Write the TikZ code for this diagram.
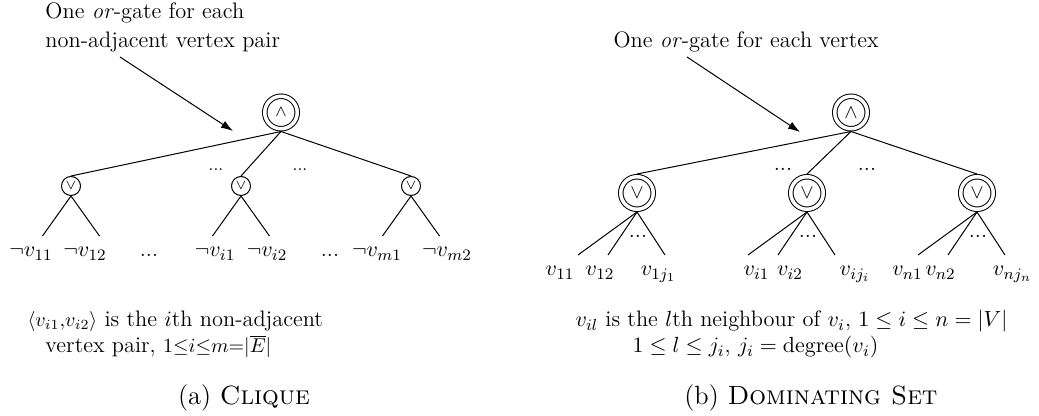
\documentclass[tikz,border=0pt]{standalone}
\usetikzlibrary{arrows.meta}
\newcommand{\gsym}[2]{\fontsize{#1}{#1}\selectfont$#2$}
\newcommand{\smallmath}[1]{{\fontsize{14.3}{15}\selectfont$\scriptstyle #1$}}
\begin{document}
\begin{tikzpicture}[x=0.5pt,y=-0.5pt, line width=0.5pt,
  gatedbl/.style={circle, draw, double, double distance=1.75pt, minimum size=16.25pt, inner sep=0pt, outer sep=1.375pt},
  gatesm/.style={circle, draw, minimum size=9.5pt, inner sep=0pt, outer sep=0.25pt},
  txt/.style={font=\fontsize{11.2}{14.5}\selectfont, inner sep=0pt, anchor=base west},
  lbl/.style={font=\fontsize{11.2}{13}\selectfont, inner sep=0pt, anchor=base},
  dotsb/.style={font=\fontsize{11.2}{13}\selectfont, inner sep=0pt, anchor=base},
  dotss/.style={font=\fontsize{8.5}{10}\selectfont, inner sep=0pt, anchor=base},
  captext/.style={font=\fontsize{13.2}{15}\selectfont, inner sep=0pt, anchor=base},
  wire/.style={line width=0.5pt},
  pointer/.style={-{Latex[length=6pt,width=4pt]}, line width=0.5pt}
]
\useasboundingbox (0,0) rectangle (1039,416);

% ---------------- (a) Clique ----------------
\node[txt] (ta1) at (45,19) {One \textit{or}-gate for each};
\node[txt] (ta2) at (45,48) {non-adjacent vertex pair};
\coordinate (pa1) at (120,57);
\coordinate (pa2) at (233,131);
\draw[pointer] (pa1) -- (pa2);

\node[gatedbl] (A1) at (281,112.5) {\gsym{8.5}{\wedge}};
\node[gatesm] (o11) at (71,186) {\gsym{7.5}{\vee}};
\node[gatesm] (o1i) at (241,186) {\gsym{7.5}{\vee}};
\node[gatesm] (o1m) at (411,186) {\gsym{7.5}{\vee}};
\draw[wire] (A1.south) -- (o11.north);
\draw[wire] (A1.south) -- (o1i.north);
\draw[wire] (A1.south) -- (o1m.north);
\node[dotss] (da1) at (216,171) {...};
\node[dotss] (da2) at (300,171) {...};

\coordinate (l11) at (42.5,236);
\coordinate (l12) at (99.5,236);
\coordinate (li1) at (212.5,236);
\coordinate (li2) at (269.5,236);
\coordinate (lm1) at (382.5,236);
\coordinate (lm2) at (439.5,236);
\foreach \g/\a/\b in {o11/l11/l12, o1i/li1/li2, o1m/lm1/lm2}{
  \draw[wire] (\g.south) -- (\a);
  \draw[wire] (\g.south) -- (\b);
}
\node[lbl] (n11) at (31,257) {$\neg v_{11}$};
\node[lbl] (n12) at (85,257) {$\neg v_{12}$};
\node[dotsb] (nd1) at (149,257) {...};
\node[lbl] (ni1) at (215,257) {$\neg v_{i1}$};
\node[lbl] (ni2) at (267,257) {$\neg v_{i2}$};
\node[dotsb] (nd2) at (330,257) {...};
\node[lbl] (nm1) at (377,257) {$\neg v_{m1}$};
\node[lbl] (nm2) at (447,257) {$\neg v_{m2}$};

\node[txt] (ca1) at (27,327) {\smallmath{\langle v_{i1},v_{i2}\rangle} is the $i$th non-adjacent};
\node[txt] (ca2) at (45,353) {vertex pair, \smallmath{1\leq i\leq m=|\overline{E}|}};
\node[captext] (capa) at (244,405) {(a) \textsc{Clique}};

% ---------------- (b) Dominating Set ----------------
\node[txt] (tb1) at (613,48) {One \textit{or}-gate for each vertex};
\coordinate (pb1) at (687,57);
\coordinate (pb2) at (800,132);
\draw[pointer] (pb1) -- (pb2);

\node[gatedbl] (A2) at (851,112.5) {\gsym{9.75}{\wedge}};
\node[gatedbl] (o21) at (637,193) {\gsym{10}{\vee}};
\node[gatedbl] (o2i) at (807,193) {\gsym{10}{\vee}};
\node[gatedbl] (o2n) at (977,193) {\gsym{10}{\vee}};
\draw[wire] (A2.south) -- (o21.north);
\draw[wire] (A2.south) -- (o2i.north);
\draw[wire] (A2.south) -- (o2n.north);
\node[dotsb] (db1) at (783,171) {...};
\node[dotsb] (db2) at (867,171) {...};

\foreach \g/\x in {o21/637, o2i/807, o2n/977}{
  \coordinate (\g-a) at (\x-59,255);
  \coordinate (\g-b) at (\x-29,255);
  \coordinate (\g-c) at (\x+28,255);
  \draw[wire] (\g.south) -- (\g-a);
  \draw[wire] (\g.south) -- (\g-b);
  \draw[wire] (\g.south) -- (\g-c);
  \node[dotsb] (\g-d) at (\x+1,238) {...};
}
\node[lbl] (m11) at (560,276) {$v_{11}$};
\node[lbl] (m12) at (600,276) {$v_{12}$};
\node[lbl] (m1j) at (658.5,276) {$v_{1j_1}$};
\node[lbl] (mi1) at (756.5,276) {$v_{i1}$};
\node[lbl] (mi2) at (790,276) {$v_{i2}$};
\node[lbl] (mij) at (855,276) {$v_{ij_i}$};
\node[lbl] (mn1) at (907.5,276) {$v_{n1}$};
\node[lbl] (mn2) at (940.5,276) {$v_{n2}$};
\node[lbl] (mnj) at (1012.5,276) {$v_{nj_n}$};

\node[txt] (cb1) at (575,327) {$v_{il}$ is the $l$th neighbour of $v_i$, $1\leq i\leq n=|V|$};
\node[txt] (cb2) at (632,353) {$1\leq l\leq j_i$, $j_i=\mathrm{degree}(v_i)$};
\node[captext] (capb) at (811,405) {(b) \textsc{Dominating Set}};
\end{tikzpicture}
\end{document}
